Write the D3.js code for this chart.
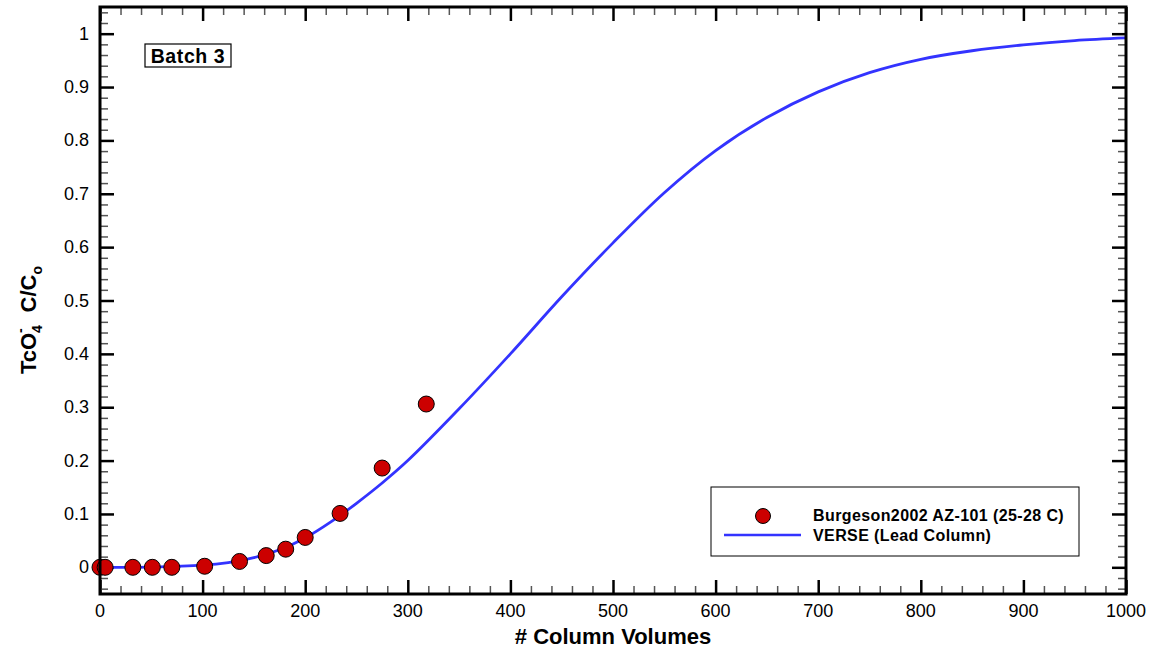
<!DOCTYPE html>
<html>
<head>
<meta charset="utf-8">
<script src="https://cdn.jsdelivr.net/npm/d3@7"></script>
<style>
  body { margin: 0; background: #fff; }
  svg { font-family: "Liberation Sans", Arial, sans-serif; }
</style>
</head>
<body>
<div id="chart"></div>
<script>
// Measured data (Burgeson 2002, AZ-101)
var dataX = [0, 5, 32, 51, 70, 102, 136, 162, 181, 200, 234, 275, 318];
var dataY = [0, 0, 0, 0, 0, 0.002, 0.011, 0.022, 0.034, 0.056, 0.101, 0.186, 0.306];

// VERSE lead column curve
var curveX = [0, 50, 100, 125, 150, 175, 200, 225, 250, 275, 300, 350, 400, 450, 500, 550, 600, 650, 700, 750, 800, 850, 900, 950, 1000];
var curveY = [0, 0.0005, 0.004, 0.009, 0.018, 0.033, 0.055, 0.085, 0.12, 0.158, 0.2, 0.297, 0.4, 0.507, 0.608, 0.702, 0.781, 0.843, 0.891, 0.927, 0.952, 0.968, 0.979, 0.987, 0.992];

var xTicks = [0, 100, 200, 300, 400, 500, 600, 700, 800, 900, 1000];
var yTicks = [0, 0.1, 0.2, 0.3, 0.4, 0.5, 0.6, 0.7, 0.8, 0.9, 1];

var legendLabels = ["Burgeson2002 AZ-101 (25-28 C)", "VERSE (Lead Column)"];

var width = 1156, height = 651;
var pLeft = 100, pRight = 1126, pTop = 7, pBottom = 594;

var svg = d3.select("#chart").append("svg")
    .attr("width", width)
    .attr("height", height);

var x = d3.scaleLinear().domain([0, 1000]).range([pLeft, pRight]);
var y = d3.scaleLinear().domain([-0.05, 1.05]).range([pBottom, pTop]);

var xMinor = d3.range(0, 1001, 20).filter(function(d) { return d % 100 !== 0; });
var yMinor = d3.range(-2, 53).map(function(i) { return i * 0.02; })
    .filter(function(d) { return Math.abs(d * 10 - Math.round(d * 10)) > 1e-6; });

// Inward ticks on all four sides
var major = 14, minor = 8;
[
  [d3.axisBottom, x, xTicks, major, pBottom, "x"],
  [d3.axisBottom, x, xMinor, minor, pBottom, "x"],
  [d3.axisTop, x, xTicks, major, pTop, "x"],
  [d3.axisTop, x, xMinor, minor, pTop, "x"],
  [d3.axisLeft, y, yTicks, major, pLeft, "y"],
  [d3.axisLeft, y, yMinor, minor, pLeft, "y"],
  [d3.axisRight, y, yTicks, major, pRight, "y"],
  [d3.axisRight, y, yMinor, minor, pRight, "y"]
].forEach(function(a) {
    var g = svg.append("g")
        .call(a[0](a[1]).tickValues(a[2]).tickSize(-a[3]).tickFormat(""));
    if (a[5] === "x") g.attr("transform", "translate(0," + a[4] + ")");
    else g.attr("transform", "translate(" + a[4] + ",0)");
    g.select(".domain").remove();
    g.selectAll("line")
        .attr("stroke", a[3] === major ? "#000" : "#555")
        .attr("stroke-width", a[3] === major ? 2.5 : 1.5);
});

// Tick labels
svg.append("g").selectAll("text")
    .data(xTicks).enter().append("text")
    .attr("x", function(d) { return x(d); })
    .attr("y", pBottom + 23)
    .attr("text-anchor", "middle")
    .attr("font-size", 18)
    .text(function(d) { return d; });

svg.append("g").selectAll("text")
    .data(yTicks).enter().append("text")
    .attr("x", pLeft - 11)
    .attr("y", function(d) { return y(d) + 6; })
    .attr("text-anchor", "end")
    .attr("font-size", 18)
    .text(function(d) { return d; });

// Curve
var line = d3.line()
    .x(function(d) { return x(d[0]); })
    .y(function(d) { return y(d[1]); })
    .curve(d3.curveCatmullRom);

svg.append("path")
    .datum(d3.zip(curveX, curveY))
    .attr("fill", "none")
    .attr("stroke", "#3333ff")
    .attr("stroke-width", 2.8)
    .attr("d", line);

// Data points
svg.append("g").selectAll("circle")
    .data(d3.zip(dataX, dataY)).enter().append("circle")
    .attr("cx", function(d) { return x(d[0]); })
    .attr("cy", function(d) { return y(d[1]); })
    .attr("r", 8)
    .attr("fill", "#cc0000")
    .attr("stroke", "#000")
    .attr("stroke-width", 1);

// Frame
svg.append("rect")
    .attr("x", pLeft).attr("y", pTop)
    .attr("width", pRight - pLeft).attr("height", pBottom - pTop)
    .attr("fill", "none").attr("stroke", "#000").attr("stroke-width", 3);

// Batch label
svg.append("rect")
    .attr("x", 145).attr("y", 44).attr("width", 86).attr("height", 23)
    .attr("fill", "#fff").attr("stroke", "#000").attr("stroke-width", 1.2);
svg.append("text")
    .attr("x", 188).attr("y", 62.5)
    .attr("text-anchor", "middle")
    .attr("font-size", 19.5).attr("font-weight", "bold")
    .attr("letter-spacing", 0.6)
    .text("Batch 3");

// Legend
var lg = svg.append("g");
lg.append("rect")
    .attr("x", 711).attr("y", 487).attr("width", 368).attr("height", 69)
    .attr("fill", "#fff").attr("stroke", "#000").attr("stroke-width", 1);
lg.append("circle")
    .attr("cx", 763).attr("cy", 516).attr("r", 7.5)
    .attr("fill", "#cc0000").attr("stroke", "#000").attr("stroke-width", 1);
lg.append("line")
    .attr("x1", 724).attr("x2", 801).attr("y1", 535).attr("y2", 535)
    .attr("stroke", "#3333ff").attr("stroke-width", 2.5);
lg.selectAll("text.lab")
    .data(legendLabels).enter().append("text")
    .attr("class", "lab")
    .attr("x", 813)
    .attr("y", function(d, i) { return 521 + i * 20; })
    .attr("font-size", 16).attr("font-weight", "bold")
    .attr("letter-spacing", 0.4)
    .text(function(d) { return d; });

// Axis titles
svg.append("text")
    .attr("x", (pLeft + pRight) / 2).attr("y", 644)
    .attr("text-anchor", "middle")
    .attr("font-size", 22).attr("font-weight", "bold")
    .text("# Column Volumes");

var yt = svg.append("text")
    .attr("transform", "translate(36,320) rotate(-90)")
    .attr("text-anchor", "middle")
    .attr("font-size", 22).attr("font-weight", "bold");
yt.append("tspan").text("TcO");
yt.append("tspan").attr("font-size", 14).attr("dy", 6).text("4");
yt.append("tspan").attr("font-size", 14).attr("dx", -8).attr("dy", -17).text("-");
yt.append("tspan").attr("dx", 16).attr("dy", 11).text("C/C");
yt.append("tspan").attr("font-size", 14).attr("dy", 6).text("o");
</script>
</body>
</html>
